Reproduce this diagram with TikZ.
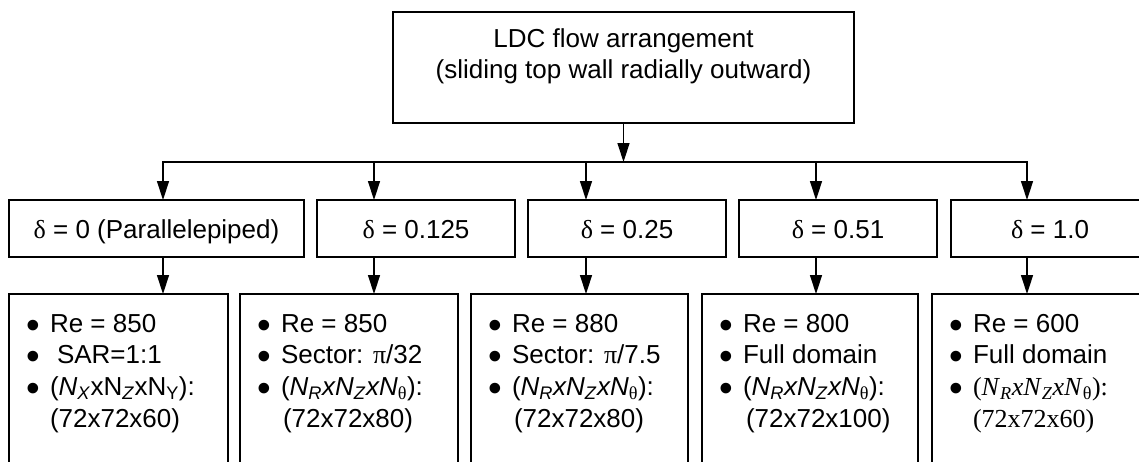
\documentclass[tikz,border=0pt]{standalone}
\usepackage{fontspec}
\setmainfont{Liberation Sans}
\newfontfamily\tnr{Liberation Serif}
\usetikzlibrary{arrows.meta}
\tikzset{
  box/.style={draw, line width=1.4pt, inner sep=0pt, outer sep=0pt, anchor=north west},
  conn/.style={line width=1.4pt, -{Triangle[length=19pt,width=12pt]}},
  busline/.style={line width=1.4pt, line cap=rect},
  txt/.style={inner sep=0pt, outer sep=0pt, font=\fontsize{26}{31.7}\selectfont},
}
\newcommand\bul{\makebox[21.5pt][l]{\hspace{-2.3pt}\smash{\raisebox{-6pt}{\scalebox{1.5}{•}}}}}
\newcommand\sbs[1]{\textsubscript{#1}}
\begin{document}
\begin{tikzpicture}[x=1pt,y=-1pt]
\useasboundingbox (0,0) rectangle (1139,461);
\clip (0,0) rectangle (1139,461);
% top box
\node[box, minimum width=461pt, minimum height=111pt] (T) at (393,12) {};
\node[txt, anchor=base] (Tt) at (623.5,47) {\begin{tabular}[t]{@{}c@{}}LDC flow arrangement\\(sliding top wall radially outward)\end{tabular}};
% bus coordinates
\coordinate (b1) at (163,162);
\coordinate (b2) at (374,162);
\coordinate (b3) at (586,162);
\coordinate (b4) at (816,162);
\coordinate (b5) at (1027,162);
% level 2 boxes
\node[box, minimum width=295pt, minimum height=57pt] (A2) at (9,200) {};
\node[box, minimum width=198pt, minimum height=57pt] (B2) at (317,200) {};
\node[box, minimum width=198pt, minimum height=57pt] (C2) at (528,200) {};
\node[box, minimum width=198pt, minimum height=57pt] (D2) at (739,200) {};
\node[box, minimum width=198pt, minimum height=57pt] (E2) at (951,200) {};
\node[txt, anchor=base] (A2t) at (156.5,238) {{\tnr δ} = 0 (Parallelepiped)};
\node[txt, anchor=base] (B2t) at (416,238) {{\tnr δ} = 0.125};
\node[txt, anchor=base] (C2t) at (627,238) {{\tnr δ} = 0.25};
\node[txt, anchor=base] (D2t) at (838,238) {{\tnr δ} = 0.51};
\node[txt, anchor=base] (E2t) at (1050,238) {{\tnr δ} = 1.0};
% level 3 boxes
\node[box, minimum width=219pt, minimum height=200pt] (A3) at (9,294) {};
\node[box, minimum width=218pt, minimum height=200pt] (B3) at (240,294) {};
\node[box, minimum width=217pt, minimum height=200pt] (C3) at (471,294) {};
\node[box, minimum width=216pt, minimum height=200pt] (D3) at (702,294) {};
\node[box, minimum width=218pt, minimum height=200pt] (E3) at (932,294) {};
\node[txt, anchor=base west] (A3t) at (28.5,332) {\begin{tabular}[t]{@{}l@{}}\bul Re = 850\\ \bul\hspace{7pt}SAR=1:1\\ \bul (\textit{N}\sbs{\textit{X}}xN\sbs{\textit{Z}}xN\sbs{Y}):\\ \hspace{21.5pt}(72x72x60)\end{tabular}};
\node[txt, anchor=base west] (B3t) at (259.5,332) {\begin{tabular}[t]{@{}l@{}}\bul Re = 850\\ \bul Sector: {\tnr π}/32\\ \bul (\textit{N}\sbs{\textit{R}}\textit{xN}\sbs{\textit{Z}}\textit{xN}\sbs{\tnr θ}):\\ \hspace{23.5pt}(72x72x80)\end{tabular}};
\node[txt, anchor=base west] (C3t) at (490.5,332) {\begin{tabular}[t]{@{}l@{}}\bul Re = 880\\ \bul Sector: {\tnr π}/7.5\\ \bul (\textit{N}\sbs{\textit{R}}\textit{xN}\sbs{\textit{Z}}\textit{xN}\sbs{\tnr θ}):\\ \hspace{23.5pt}(72x72x80)\end{tabular}};
\node[txt, anchor=base west] (D3t) at (721.5,332) {\begin{tabular}[t]{@{}l@{}}\bul Re = 800\\ \bul Full domain\\ \bul (\textit{N}\sbs{\textit{R}}\textit{xN}\sbs{\textit{Z}}\textit{xN}\sbs{\tnr θ}):\\ \hspace{24.5pt}(72x72x100)\end{tabular}};
\node[txt, anchor=base west] (E3t) at (951.5,332) {\begin{tabular}[t]{@{}l@{}}\bul Re = 600\\ \bul Full domain\\ \bul {\tnr (\textit{N}\sbs{\textit{R}}\textit{xN}\sbs{\textit{Z}}\textit{xN}\sbs{θ}):}\\ \hspace{21.5pt}{\tnr (72x72x60)}\end{tabular}};
% connectors
\draw[conn] (T.south) -- (T.south |- b1);
\draw[busline] (b1) -- (b5);
\draw[conn] (b1) -- (b1 |- A2.north);
\draw[conn] (b2) -- (b2 |- B2.north);
\draw[conn] (b3) -- (b3 |- C2.north);
\draw[conn] (b4) -- (b4 |- D2.north);
\draw[conn] (b5) -- (b5 |- E2.north);
\draw[conn] (b1 |- A2.south) -- (b1 |- A3.north);
\draw[conn] (b2 |- B2.south) -- (b2 |- B3.north);
\draw[conn] (b3 |- C2.south) -- (b3 |- C3.north);
\draw[conn] (b4 |- D2.south) -- (b4 |- D3.north);
\draw[conn] (b5 |- E2.south) -- (b5 |- E3.north);
\end{tikzpicture}
\end{document}
